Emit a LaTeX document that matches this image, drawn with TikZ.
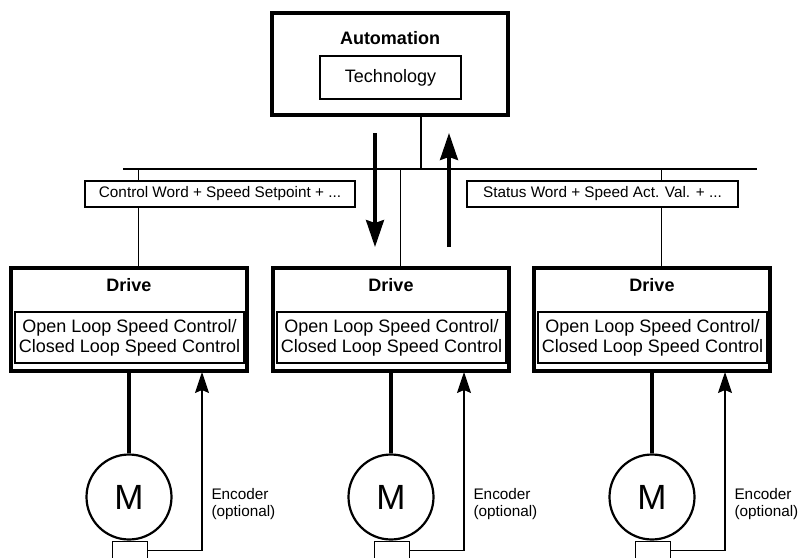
\documentclass[tikz,border=0pt]{standalone}
\usepackage{fontspec}
\setmainfont{Liberation Sans}
\usetikzlibrary{arrows.meta}

\begin{document}
\begin{tikzpicture}[x=1pt,y=-1pt,
	heavybox/.style={draw,line width=3.2pt,inner sep=0pt},
	lightbox/.style={draw,line width=1.3pt,inner sep=0pt,fill=white},
	wire/.style={line width=1.2pt},
	heavywire/.style={line width=3.2pt},
	bigtext/.style={font=\fontsize{18}{20}\selectfont},
	boldtext/.style={font=\fontsize{18}{20}\selectfont\bfseries},
	smalltext/.style={font=\fontsize{15.3}{17}\selectfont}]
	\useasboundingbox (0,0) rectangle (798,557);
	% automation unit
	\node[heavybox,minimum width=236pt,minimum height=102pt] (auto) at (390,64) {};
	\node[boldtext] (autotitle) at (390,38) {Automation};
	\node[lightbox,bigtext,minimum width=141pt,minimum height=43pt] (tech) at (390.5,77.5) {Technology};
	% bus
	\coordinate (busL) at (123,169);
	\coordinate (busR) at (757,169);
	\coordinate (busT) at (421,169);
	\draw[wire](busL)--(busR);
	\draw[wire](busT |- auto.south)--(busT);
	% drives and motors
	\foreach \n/\x in {A/129,B/391,C/652}{
		\node[heavybox,minimum width=236pt,minimum height=103pt] (drv\n) at (\x,319.5) {};
		\node[boldtext] (drvtitle\n) at (\x,285) {Drive};
		\node[lightbox,bigtext,align=center,minimum width=229pt,minimum height=51pt] (loop\n) at (\x+0.5,337.5)
			{Open Loop Speed Control/\\Closed Loop Speed Control};
		\coordinate (tap\n) at (\x+9.5,169);
		\draw[wire](tap\n)--(tap\n |- drv\n.north);
		\node[draw,circle,line width=2.2pt,minimum size=85pt,inner sep=0pt,
			font=\fontsize{35}{36}\selectfont] (mot\n) at (\x,497) {M};
		\draw[heavywire](drv\n.south)--(mot\n.north);
		\node[draw,line width=1.3pt,anchor=north,minimum width=35pt,minimum height=18pt] (enc\n) at (\x+1,541) {};
		\coordinate (fb\n) at (\x+73,372);
		\draw[wire,-{Stealth[length=21pt,width=14pt,inset=3pt]}](enc\n.east) -| (fb\n);
		\node[smalltext,align=left,anchor=west] (enclabel\n) at (\x+79,504) {Encoder\\(optional)};
	}
	% telegrams
	\node[lightbox,smalltext,minimum width=270pt,minimum height=26pt] (ctrlword) at (220,194)
		{Control Word + Speed Setpoint + ...};
	\node[lightbox,smalltext,minimum width=271pt,minimum height=26pt] (statword) at (602.5,194)
		{Status Word + Speed Act. Val. + ...};
	% data flow
	\coordinate (dnS) at (375,133);
	\coordinate (dnE) at (375,247);
	\coordinate (upS) at (449,247);
	\coordinate (upE) at (449,133);
	\draw[heavywire,-{Stealth[length=27pt,width=18pt,inset=3pt]}](dnS)--(dnE);
	\draw[heavywire,-{Stealth[length=27pt,width=18pt,inset=3pt]}](upS)--(upE);
\end{tikzpicture}
\end{document}
